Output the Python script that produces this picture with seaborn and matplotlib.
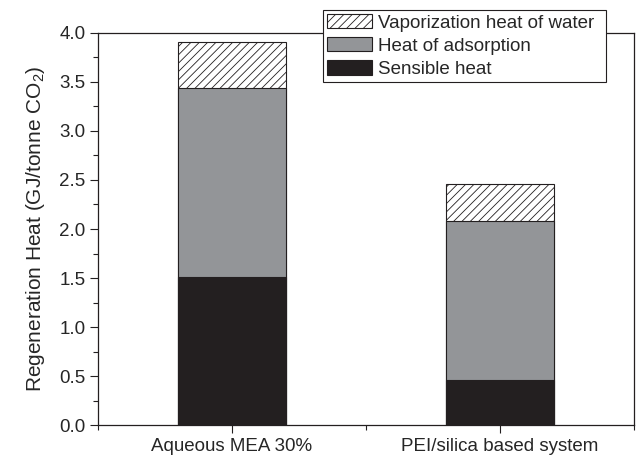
import pandas as pd
import numpy as np
import matplotlib
matplotlib.use('Agg')
import matplotlib.pyplot as plt
import seaborn as sns
from matplotlib.patches import Patch
from matplotlib.ticker import MultipleLocator

# data (GJ/tonne CO2)
systems = ['Aqueous MEA 30%', 'PEI/silica based system']
sensible = [1.51, 0.46]
adsorption = [1.93, 1.62]
vaporization = [0.47, 0.38]

sns.set_style('ticks')
plt.rcParams['font.family'] = ['Liberation Sans', 'DejaVu Sans']
plt.rcParams['hatch.linewidth'] = 0.6
plt.rcParams['mathtext.fontset'] = 'custom'
plt.rcParams['mathtext.rm'] = 'Liberation Sans'

df = pd.DataFrame({'system': systems, 'sensible': sensible,
                   'adsorption': adsorption, 'vaporization': vaporization})
df['mid'] = df['sensible'] + df['adsorption']
df['total'] = df['mid'] + df['vaporization']

fig = plt.figure(figsize=(6.36, 4.58), dpi=100)
ax = fig.add_axes([0.154, 0.072, 0.843, 0.856])

# stacked bars: draw cumulative heights, tallest first
sns.barplot(data=df, x='system', y='total', color='white', width=0.4,
            edgecolor='#231f20', linewidth=0.8, hatch='////', saturation=1, ax=ax)
sns.barplot(data=df, x='system', y='mid', color='#939598', width=0.4,
            edgecolor='#231f20', linewidth=0.8, saturation=1, ax=ax)
sns.barplot(data=df, x='system', y='sensible', color='#231f20', width=0.4,
            edgecolor='#231f20', linewidth=0.8, saturation=1, ax=ax)

ax.set_xlim(-0.5, 1.5)
ax.set_ylim(0, 4.0)
ax.yaxis.set_major_locator(MultipleLocator(0.5))
ax.yaxis.set_minor_locator(MultipleLocator(0.25))
ax.xaxis.set_minor_locator(MultipleLocator(0.5))
ax.set_xlabel('')
ax.set_ylabel('Regeneration Heat (GJ/tonne CO$_2$)', fontsize=15, labelpad=9)
ax.tick_params(axis='both', which='major', labelsize=13.5, direction='out',
               length=6, width=0.8, color='#231f20', pad=3)
ax.tick_params(axis='both', which='minor', direction='out', length=3.5,
               width=0.8, color='#231f20')
for s in ax.spines.values():
    s.set_visible(True)
    s.set_linewidth(0.9)
    s.set_color('#231f20')

handles = [Patch(facecolor='white', edgecolor='#231f20', hatch='////', linewidth=0.8),
           Patch(facecolor='#939598', edgecolor='#231f20', linewidth=0.8),
           Patch(facecolor='#231f20', edgecolor='#231f20', linewidth=0.8)]
labels = ['Vaporization heat of water', 'Heat of adsorption', 'Sensible heat']
leg = ax.legend(handles, labels, loc='upper left',
                bbox_to_anchor=(0.508, 0.82, 0.445, 0.158), mode='expand',
                bbox_transform=fig.transFigure, borderaxespad=0, fontsize=13.5,
                fancybox=False, edgecolor='#231f20', framealpha=1,
                handlelength=2.4, handleheight=0.8, handletextpad=0.35,
                labelspacing=0.3, borderpad=0.2)
leg.get_frame().set_linewidth(0.8)

fig.savefig('out.png', dpi=100)
